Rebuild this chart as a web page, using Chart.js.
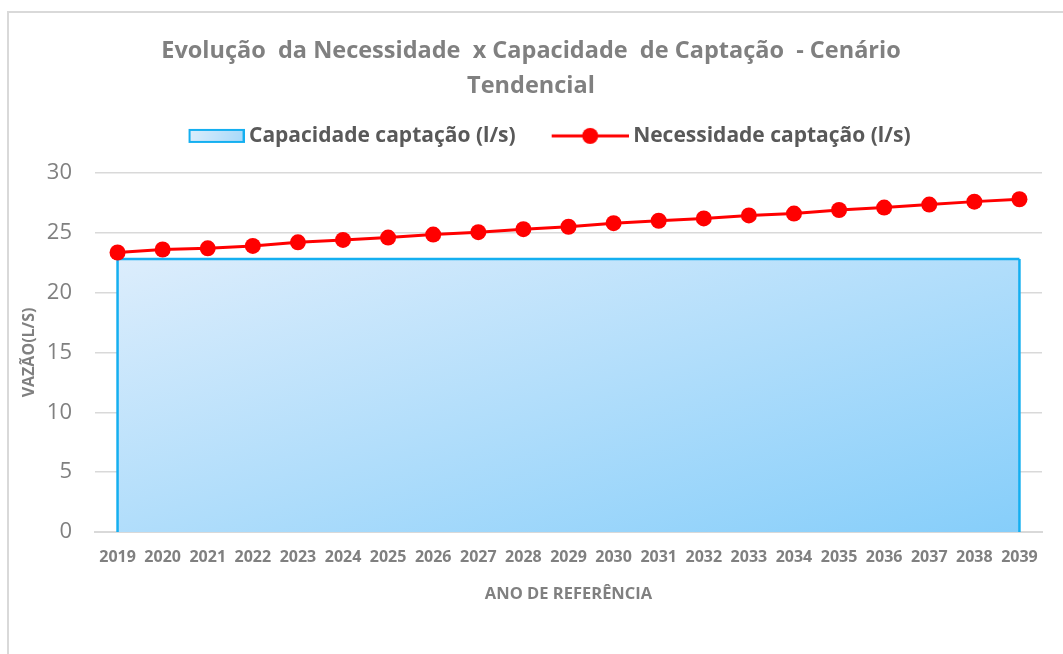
<!DOCTYPE html>
<html>
<head>
<meta charset="utf-8">
<title>Evolução da Necessidade x Capacidade de Captação</title>
<script src="https://cdn.jsdelivr.net/npm/chart.js@4.4.1/dist/chart.umd.min.js"></script>
<style>
  html, body { margin: 0; padding: 0; background: #fff; }
  canvas { display: block; }
</style>
</head>
<body>
<canvas id="chart" width="1063" height="654"></canvas>
<script>
// dados
const anos = ['2019', '2020', '2021', '2022', '2023', '2024', '2025', '2026', '2027', '2028', '2029',
  '2030', '2031', '2032', '2033', '2034', '2035', '2036', '2037', '2038', '2039']
const capacidade = [22.8, 22.8, 22.8, 22.8, 22.8, 22.8, 22.8, 22.8, 22.8, 22.8, 22.8,
  22.8, 22.8, 22.8, 22.8, 22.8, 22.8, 22.8, 22.8, 22.8, 22.8]
const necessidade = [23.35, 23.6, 23.7, 23.9, 24.2, 24.4, 24.6, 24.85, 25.05, 25.3, 25.5,
  25.8, 26.0, 26.2, 26.45, 26.6, 26.9, 27.1, 27.35, 27.6, 27.8]
const yTicks = [0, 5, 10, 15, 20, 25, 30]

const FONT = '"Open Sans", Lato, sans-serif'
const GRAY = '#808080'
const BLUE = '#14aff0'

// simbolos da legenda (desenhados num canvas pequeno)
const SYM_W = 87
function legendSymbol(kind) {
  const c = document.createElement('canvas')
  c.width = SYM_W + 12
  c.height = 20
  const g = c.getContext('2d')
  if (kind === 'area') {
    const x0 = c.width - 56
    const grd = g.createLinearGradient(x0, 3, c.width, 17)
    grd.addColorStop(0, '#ddeefc')
    grd.addColorStop(1, '#a6d9fa')
    g.fillStyle = grd
    g.fillRect(x0 + 1, 4, 54, 12)
    g.strokeStyle = BLUE
    g.lineWidth = 2
    g.strokeRect(x0 + 1, 4, 54, 12)
  } else {
    const x0 = c.width - 77
    g.strokeStyle = '#ff0000'
    g.lineWidth = 3
    g.beginPath()
    g.moveTo(x0, 10)
    g.lineTo(c.width, 10)
    g.stroke()
    g.fillStyle = '#ff0000'
    g.beginPath()
    g.arc(x0 + 38.5, 10, 8, 0, Math.PI * 2)
    g.fill()
  }
  return c
}
const symArea = legendSymbol('area')
const symLine = legendSymbol('line')

// limites da área de capacidade em pixels
function areaBox(chart) {
  const x = chart.scales.x
  const y = chart.scales.y
  return {
    left: x.getPixelForValue(0),
    right: x.getPixelForValue(anos.length - 1),
    top: y.getPixelForValue(Math.max(...capacidade)),
    bottom: y.getPixelForValue(0),
  }
}

// gradiente diagonal (45 graus na forma, como no Excel)
function areaFill(context) {
  const chart = context.chart
  if (!chart.chartArea) return '#bfe3fb'
  const b = areaBox(chart)
  const w = b.right - b.left
  const h = b.bottom - b.top
  const t = 2 * w * h / (w * w + h * h)
  const grd = chart.ctx.createLinearGradient(b.left, b.top, b.left + h * t, b.top + w * t)
  grd.addColorStop(0, '#dcedfc')
  grd.addColorStop(1, '#86cefa')
  return grd
}

// bordas laterais da área
const areaEdges = {
  id: 'areaEdges',
  afterDatasetDraw(chart, args) {
    if (args.index !== 0) return
    const b = areaBox(chart)
    const ctx = chart.ctx
    ctx.save()
    ctx.strokeStyle = BLUE
    ctx.lineWidth = 2.5
    ctx.beginPath()
    ctx.moveTo(b.left, b.top)
    ctx.lineTo(b.left, b.bottom)
    ctx.moveTo(b.right, b.top)
    ctx.lineTo(b.right, b.bottom)
    ctx.stroke()
    ctx.restore()
  }
}

// moldura cinza do gráfico do Excel
const frame = {
  id: 'frame',
  beforeDraw(chart) {
    const ctx = chart.ctx
    ctx.save()
    ctx.strokeStyle = '#d9d9d9'
    ctx.lineWidth = 2
    ctx.beginPath()
    ctx.moveTo(8, chart.height)
    ctx.lineTo(8, 12)
    ctx.lineTo(chart.width, 12)
    ctx.stroke()
    ctx.restore()
  }
}

const config = {
  type: 'line',
  data: {
    labels: anos,
    datasets: [
      {
        label: 'Capacidade captação (l/s)',
        data: capacidade,
        borderColor: BLUE,
        borderWidth: 2.5,
        backgroundColor: areaFill,
        fill: 'origin',
        pointRadius: 0,
        tension: 0,
        order: 1,
      },
      {
        label: 'Necessidade captação (l/s)',
        data: necessidade,
        borderColor: '#ff0000',
        borderWidth: 3,
        backgroundColor: '#ff0000',
        pointBackgroundColor: '#ff0000',
        pointBorderColor: '#ff0000',
        pointRadius: 8,
        pointBorderWidth: 0,
        fill: false,
        tension: 0,
        order: 0,
      },
    ],
  },
  options: {
    responsive: false,
    animation: false,
    layout: { padding: { left: 20, right: 21, top: 0, bottom: 50 } },
    plugins: {
      title: {
        display: true,
        text: ['Evolução  da Necessidade  x Capacidade  de Captação  - Cenário', 'Tendencial'],
        color: GRAY,
        font: { family: FONT, size: 23.5, weight: 'bold', lineHeight: '35.2px' },
        padding: { top: 34, bottom: 1 },
      },
      // espaço vazio entre a legenda e a área do gráfico
      subtitle: {
        display: true,
        text: '',
        weight: 500,
        font: { size: 1 },
        padding: { top: 0, bottom: 15.3 },
      },
      legend: {
        display: true,
        labels: {
          usePointStyle: true,
          pointStyleWidth: SYM_W,
          padding: 20,
          color: '#595959',
          font: { family: FONT, size: 21, weight: 'bold' },
          generateLabels: () => [
            { text: 'Capacidade captação (l/s)', pointStyle: symArea, fillStyle: 'transparent',
              strokeStyle: 'transparent', lineWidth: 0, hidden: false, datasetIndex: 0, fontColor: '#595959' },
            { text: 'Necessidade captação (l/s)', pointStyle: symLine, fillStyle: 'transparent',
              strokeStyle: 'transparent', lineWidth: 0, hidden: false, datasetIndex: 1, fontColor: '#595959' },
          ],
        },
      },
      tooltip: { enabled: false },
    },
    scales: {
      x: {
        offset: true,
        grid: { display: false, drawTicks: false },
        border: { display: true, color: '#d9d9d9', width: 2 },
        ticks: {
          color: GRAY,
          padding: 16,
          maxRotation: 0,
          autoSkip: false,
          font: { family: FONT, size: 16, weight: 'bold' },
        },
        title: {
          display: true,
          text: 'ANO DE REFERÊNCIA',
          color: GRAY,
          padding: { top: 1, bottom: 0 },
          font: { family: FONT, size: 16.5, weight: 'bold' },
        },
      },
      y: {
        min: 0,
        max: 30,
        afterBuildTicks: (scale) => { scale.ticks = yTicks.map(v => ({ value: v })) },
        afterFit: (scale) => { scale.width = 75 },
        grid: { color: '#d9d9d9', lineWidth: 1.5, drawTicks: false },
        border: { display: false },
        ticks: {
          color: GRAY,
          padding: 23,
          font: { family: FONT, size: 22 },
        },
        title: {
          display: true,
          text: 'VAZÃO(L/S)',
          color: GRAY,
          padding: 0,
          font: { family: FONT, size: 16, weight: 'bold' },
        },
      },
    },
  },
  plugins: [frame, areaEdges],
}

window.myChart = new Chart(document.getElementById('chart'), config)
</script>
</body>
</html>
